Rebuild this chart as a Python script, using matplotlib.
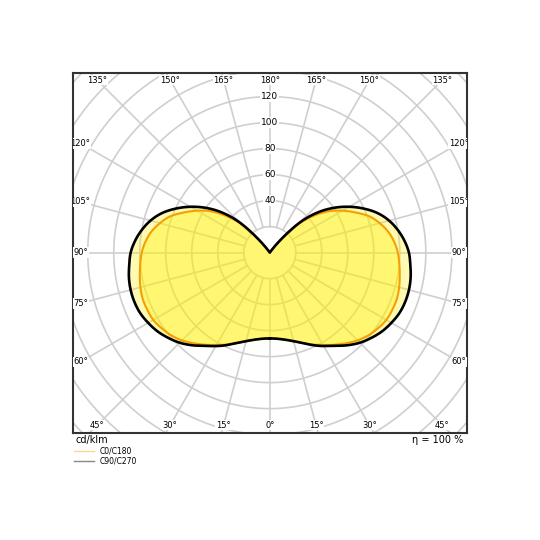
import numpy as np
import matplotlib
matplotlib.use('Agg')
import matplotlib.pyplot as plt
from matplotlib.lines import Line2D

# gamma angles (deg from nadir) and intensities in cd/klm
gamma = [0, 5, 10, 15, 20, 25, 30, 35, 40, 45, 50, 55, 60, 65, 70, 75, 80, 85, 90,
         95, 100, 105, 110, 115, 120, 125, 130, 135, 140, 145, 150, 155, 160, 165,
         170, 175, 180]
c0_c180 = [66, 66.5, 68, 70.5, 74, 78, 82, 86.5, 91, 95.5, 99, 101.5, 103.5, 104,
           104, 103, 101.5, 100, 98.5, 96, 92.5, 87.5, 81.5, 73, 64.5, 55.5, 44, 31, 12,
           0, 0, 0, 0, 0, 0, 0, 0]
c90_c270 = [66, 66.5, 68, 70.5, 74, 78.5, 83, 87.5, 93, 98, 102, 105.5, 108, 110,
            110.8, 110.8, 110, 108.5, 107, 104, 100, 95, 88.5, 80, 70.5, 60, 48, 33, 12,
            0, 0, 0, 0, 0, 0, 0, 0]
ring_values = [20, 40, 60, 80, 100, 120, 140, 160, 180, 200, 220]
ring_labels = [40, 60, 80, 100, 120]
angle_step = 15


def smooth(g, r, n=12):
    # catmull-rom through the measured points, only for drawing a round curve
    g = np.asarray(g, dtype=float)
    r = np.asarray(r, dtype=float)
    rp = np.concatenate([[r[1]], r, [r[-2]]])
    t = np.linspace(0, 1, n, endpoint=False)
    gs, rs = [], []
    for i in range(len(r) - 1):
        p0, p1, p2, p3 = rp[i:i + 4]
        seg = 0.5 * (2 * p1 + (p2 - p0) * t + (2 * p0 - 5 * p1 + 4 * p2 - p3) * t ** 2
                     + (3 * p1 - p0 - 3 * p2 + p3) * t ** 3)
        gs.append(g[i] + (g[i + 1] - g[i]) * t)
        rs.append(seg)
    gs.append([g[-1]])
    rs.append([r[-1]])
    return np.concatenate(gs), np.maximum(np.concatenate(rs), 0)


def to_xy(g, r):
    # left half then right half, nadir pointing down
    g = np.radians(g)
    x = np.concatenate([-r * np.sin(g), (r * np.sin(g))[::-1]])
    y = np.concatenate([-r * np.cos(g), (-r * np.cos(g))[::-1]])
    return x, y


fig = plt.figure(figsize=(5.4, 5.4), dpi=100)
ax = fig.add_axes([0.1343, 0.1987, 0.7306, 0.667])
hw, hh = 151.7, 138.5
ax.set_xlim(-hw, hw)
ax.set_ylim(-hh, hh)
ax.set_xticks([])
ax.set_yticks([])
for s in ax.spines.values():
    s.set_color('#333333')
    s.set_linewidth(1.5)

grid_col = '#cfcfcf'
t = np.linspace(0, 2 * np.pi, 400)
for rv in ring_values:
    ax.plot(rv * np.cos(t), rv * np.sin(t), color=grid_col, lw=1.2, zorder=1)
for a in range(0, 360, angle_step):
    ar = np.radians(a)
    ax.plot([20 * np.sin(ar), 300 * np.sin(ar)], [-20 * np.cos(ar), -300 * np.cos(ar)],
            color=grid_col, lw=1.2, zorder=1)

# curves
xb, yb = to_xy(*smooth(gamma, c90_c270))
xo, yo = to_xy(*smooth(gamma, c0_c180))
ax.fill(xb, yb, color='#fff000', alpha=0.3, lw=0, zorder=2)
ax.fill(xo, yo, color='#fff000', alpha=0.36, lw=0, zorder=3)
ax.plot(xo, yo, color='#f5a000', lw=1.5, zorder=4)
ax.plot(xb, yb, color='black', lw=1.9, zorder=5, solid_joinstyle='round')

# angle labels along the frame
ihw, ihh = hw - 6.1, hh - 5.8
for a in range(0, 181, angle_step):
    for side in ([1] if a in (0, 180) else [-1, 1]):
        ar = np.radians(a)
        dx, dy = side * np.sin(ar), -np.cos(ar)
        tt = min(ihw / abs(dx) if abs(dx) > 1e-9 else 1e9,
                 ihh / abs(dy) if abs(dy) > 1e-9 else 1e9)
        ax.text(dx * tt, dy * tt, f'{a}°', fontsize=6, ha='center', va='center',
                clip_on=True, zorder=6,
                bbox=dict(facecolor='white', edgecolor='none', pad=0.6))

for rv in ring_labels:
    ax.text(0, rv, str(rv), fontsize=6.5, ha='center', va='center', zorder=6,
            bbox=dict(facecolor='white', edgecolor='none', pad=0.6))

fig.text(76 / 540, 1 - 440 / 540, 'cd/klm', fontsize=7, ha='left', va='center')
fig.text(463 / 540, 1 - 440 / 540, 'η = 100 %', fontsize=7, ha='right', va='center')

handles = [Line2D([], [], color='#ffd590', lw=1),
           Line2D([], [], color='#888888', lw=1)]
fig.legend(handles, ['C0/C180', 'C90/C270'], loc='upper left',
           bbox_to_anchor=(74 / 540, 1 - 447 / 540), frameon=False, fontsize=5.5,
           handlelength=2.6, labelspacing=0.05, handletextpad=0.8,
           borderpad=0, borderaxespad=0)

fig.savefig('out.png', dpi=100)
